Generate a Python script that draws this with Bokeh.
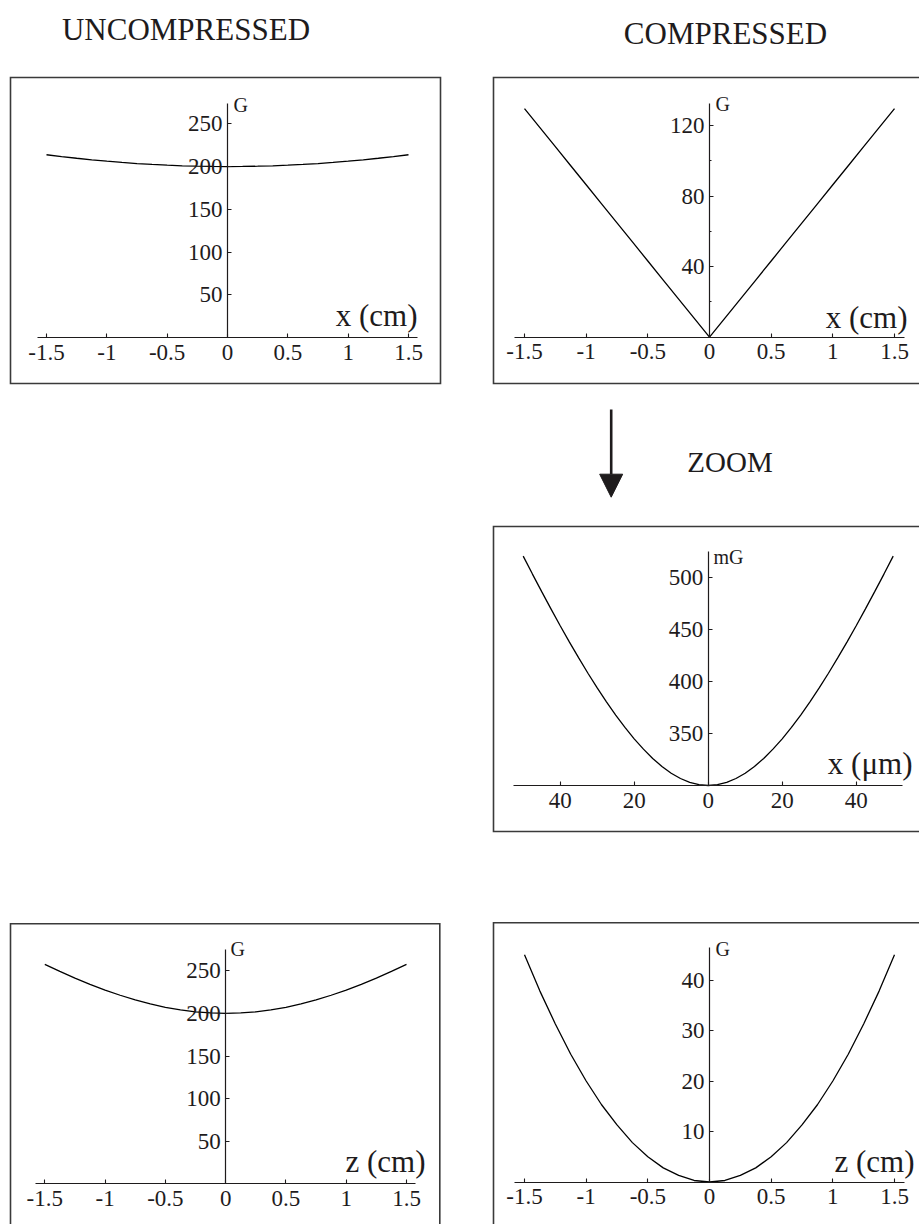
from bokeh.plotting import figure
from bokeh.models import (Range1d, LinearAxis, FixedTicker, Label, Arrow,
                          NormalHead, Spacer, CustomJSTickFormatter)
from bokeh.layouts import column, row
from bokeh.embed import file_html
from bokeh.resources import INLINE

FONT = "Liberation Serif"
INK = "#1e1b1c"
BOX = "#3a3a3a"

# ------------------------------------------------------------------ data
x_cm = [-1.5, -1.375, -1.25, -1.125, -1.0, -0.875, -0.75, -0.625, -0.5,
        -0.375, -0.25, -0.125, 0.0, 0.125, 0.25, 0.375, 0.5, 0.625, 0.75,
        0.875, 1.0, 1.125, 1.25, 1.375, 1.5]

# uncompressed, radial (x)
g_uncomp_x = [213.8, 211.7, 209.7, 207.9, 206.3, 204.8, 203.5, 202.5, 201.6,
              200.9, 200.4, 200.1, 200.0, 200.1, 200.4, 200.9, 201.6, 202.5,
              203.5, 204.8, 206.3, 207.9, 209.7, 211.7, 213.8]
# compressed, radial (x)
g_comp_x = [129.6, 118.8, 108.0, 97.2, 86.4, 75.6, 64.8, 54.0, 43.2, 32.4,
            21.6, 10.8, 0.0, 10.8, 21.6, 32.4, 43.2, 54.0, 64.8, 75.6, 86.4,
            97.2, 108.0, 118.8, 129.6]
# uncompressed, axial (z)
g_uncomp_z = [257.6, 249.3, 241.4, 234.1, 227.4, 221.3, 215.8, 211.1, 207.2,
              204.1, 201.8, 200.5, 200.0, 200.5, 201.8, 204.1, 207.2, 211.1,
              215.8, 221.3, 227.4, 234.1, 241.4, 249.3, 257.6]
# compressed, axial (z)
g_comp_z = [45.0, 37.8, 31.3, 25.3, 20.0, 15.3, 11.3, 7.8, 5.0, 2.8, 1.3, 0.3,
            0.0, 0.3, 1.3, 2.8, 5.0, 7.8, 11.3, 15.3, 20.0, 25.3, 31.3, 37.8,
            45.0]

# compressed, radial zoom (x in micrometres, field in mG)
x_um = [-50, -47.5, -45, -42.5, -40, -37.5, -35, -32.5, -30, -27.5, -25,
        -22.5, -20, -17.5, -15, -12.5, -10, -7.5, -5, -2.5, 0, 2.5, 5, 7.5,
        10, 12.5, 15, 17.5, 20, 22.5, 25, 27.5, 30, 32.5, 35, 37.5, 40, 42.5,
        45, 47.5, 50]
mg_zoom = [520.2, 503.0, 486.1, 469.6, 453.4, 437.7, 422.5, 407.8, 393.7,
           380.3, 367.6, 355.8, 344.8, 334.9, 326.0, 318.3, 311.8, 306.7,
           303.0, 300.75, 300.0, 300.75, 303.0, 306.7, 311.8, 318.3, 326.0,
           334.9, 344.8, 355.8, 367.6, 380.3, 393.7, 407.8, 422.5, 437.7,
           453.4, 469.6, 486.1, 503.0, 520.2]

cm_ticks = [-1.5, -1, -0.5, 0, 0.5, 1, 1.5]
cm_tick_labels = ["-1.5", "-1", "-0.5", "0", "0.5", "1", "1.5"]
um_ticks = [-40, -20, 0, 20, 40]
um_tick_labels = ["40", "20", "0", "20", "40"]

yt_uncomp = [50, 100, 150, 200, 250]
yt_uncomp_labels = ["50", "100", "150", "200", "250"]
yt_comp_x = [40, 80, 120]
yt_comp_x_labels = ["40", "80", "120"]
yt_comp_x_minor = [20, 60, 100]
yt_zoom = [350, 400, 450, 500]
yt_zoom_labels = ["350", "400", "450", "500"]
yt_comp_z = [10, 20, 30, 40]
yt_comp_z_labels = ["10", "20", "30", "40"]

titles = ["UNCOMPRESSED", "COMPRESSED"]
zoom_text = "ZOOM"


# ------------------------------------------------------------------ helpers
def lin(a, b, p):
    (d1, p1), (d2, p2) = a, b
    return d1 + (p - p1) * (d2 - d1) / (p2 - p1)


def fmt(tv, tl):
    return CustomJSTickFormatter(
        args=dict(tv=list(tv), tl=list(tl)),
        code="const i = tv.indexOf(tick); return i >= 0 ? tl[i] : '';")


def base_fig(w, h, xr, yr):
    p = figure(width=w, height=h, x_range=xr, y_range=yr,
               output_backend="svg", toolbar_location=None,
               x_axis_location=None, y_axis_location=None, min_border=0)
    p.title.visible = False
    p.grid.visible = False
    p.outline_line_color = None
    p.background_fill_color = "white"
    p.border_fill_color = "white"
    return p


def panel(canvas, xref, yref):
    cx0, cy0, cx1, cy1 = canvas

    def xs(px):
        return lin(xref[0], xref[1], px)

    def ys(py):
        return lin(yref[0], yref[1], py)

    p = base_fig(cx1 - cx0, cy1 - cy0,
                 Range1d(xs(cx0), xs(cx1)), Range1d(ys(cy1), ys(cy0)))
    return p, xs, ys


def style_axis(ax, standoff):
    ax.axis_line_color = INK
    ax.axis_line_width = 1.2
    ax.major_tick_line_color = INK
    ax.major_tick_line_width = 1.1
    ax.major_tick_in = 4
    ax.major_tick_out = 0
    ax.minor_tick_line_color = INK
    ax.minor_tick_line_width = 1.0
    ax.minor_tick_in = 2
    ax.minor_tick_out = 0
    ax.major_label_text_font = FONT
    ax.major_label_text_font_size = "23px"
    ax.major_label_text_color = INK
    ax.major_label_standoff = standoff


def axes(p, x_at, y_at, xb, yb, xt, xl, yt, yl, yminor=()):
    xa = LinearAxis(fixed_location=x_at, bounds=xb,
                    ticker=FixedTicker(ticks=xt, minor_ticks=[]),
                    formatter=fmt(xt, xl))
    ya = LinearAxis(fixed_location=y_at, bounds=yb,
                    ticker=FixedTicker(ticks=yt, minor_ticks=list(yminor)),
                    formatter=fmt(yt, yl))
    style_axis(xa, 7)
    style_axis(ya, 5)
    p.add_layout(xa, "below")
    p.add_layout(ya, "left")


def text(p, x, y, s, size, align="left"):
    p.add_layout(Label(x=x, y=y, text=s, text_font=FONT,
                       text_font_size=size, text_color=INK,
                       text_align=align, text_baseline="alphabetic"))


def border(p, xs_pts, ys_pts):
    p.line(xs_pts, ys_pts, line_color=BOX, line_width=1.6,
           line_join="miter", line_cap="square")


# ------------------------------------------------------------------ header
header = base_fig(919, 74, Range1d(0, 919), Range1d(74, 0))
text(header, 185.5, 29.3, titles[0], "31px", "center")
text(header, 725.0, 33.3, titles[1], "31px", "center")

# ------------------------------------------------------------------ panel A
pA, xs, ys = panel((0, 74, 444, 386), ((-1.5, 46), (1.5, 408)),
                   ((0, 337.1), (250, 123.3)))
border(pA, [xs(10), xs(440), xs(440), xs(10), xs(10)],
       [ys(77), ys(77), ys(383), ys(383), ys(77)])
axes(pA, 0, 0, (-1.575, 1.575), (0, 274), cm_ticks, cm_tick_labels,
     yt_uncomp, yt_uncomp_labels)
pA.line(x_cm, g_uncomp_x, line_color="black", line_width=1.3)
text(pA, xs(233), ys(104), "G", "20px")
text(pA, xs(417), ys(315), "x (cm)", "31px", "right")

# ------------------------------------------------------------------ panel B
pB, xs, ys = panel((490, 74, 919, 386), ((-1.5, 524), (1.5, 894)),
                   ((0, 336.7), (120, 125)))
border(pB, [xs(940), xs(493), xs(493), xs(940)],
       [ys(77), ys(77), ys(383), ys(383)])
axes(pB, 0, 0, (-1.58, 1.58), (0, 132.4), cm_ticks, cm_tick_labels,
     yt_comp_x, yt_comp_x_labels, yt_comp_x_minor)
pB.line(x_cm, g_comp_x, line_color="black", line_width=1.3)
text(pB, xs(715), ys(103), "G", "20px")
text(pB, xs(907), ys(316.7), "x (cm)", "31px", "right")

# ------------------------------------------------------------------ middle (arrow + ZOOM)
mid = base_fig(919, 136, Range1d(0, 919), Range1d(522, 386))
mid.add_layout(Arrow(x_start=610.7, y_start=409, x_end=610.7, y_end=496.7,
                     line_color=INK, line_width=2.6,
                     end=NormalHead(size=23, fill_color=INK, line_color=INK,
                                    line_width=1)))
text(mid, 729.5, 461, zoom_text, "29px", "center")

# ------------------------------------------------------------------ panel C
pC, xs, ys = panel((490, 522, 919, 834), ((-40, 559.7), (40, 855.7)),
                   ((300, 785), (500, 576.7)))
border(pC, [xs(940), xs(493), xs(493), xs(940)],
       [ys(526), ys(526), ys(831), ys(831)])
axes(pC, 300, 0, (-52.6, 52.6), (300, 525), um_ticks, um_tick_labels,
     yt_zoom, yt_zoom_labels)
pC.line(x_um, mg_zoom, line_color="black", line_width=1.3)
text(pC, xs(713), ys(556), "mG", "20px")
text(pC, xs(912), ys(763), "x (\u03bcm)", "31px", "right")

# ------------------------------------------------------------------ panel D
pD, xs, ys = panel((0, 919, 444, 1224), ((-1.5, 44.3), (1.5, 406)),
                   ((0, 1183.3), (250, 970.3)))
border(pD, [xs(10), xs(10), xs(439.3), xs(439.3)],
       [ys(1250), ys(923.3), ys(923.3), ys(1250)])
axes(pD, 0, 0, (-1.578, 1.578), (0, 275.5), cm_ticks, cm_tick_labels,
     yt_uncomp, yt_uncomp_labels)
pD.line(x_cm, g_uncomp_z, line_color="black", line_width=1.3)
text(pD, xs(230), ys(948.3), "G", "20px")
text(pD, xs(425), ys(1161), "z (cm)", "31px", "right")

# ------------------------------------------------------------------ panel E
pE, xs, ys = panel((490, 919, 919, 1224), ((-1.5, 524), (1.5, 894)),
                   ((0, 1181.5), (40, 979.5)))
border(pE, [xs(940), xs(493), xs(493)],
       [ys(922.3), ys(922.3), ys(1250)])
axes(pE, 0, 0, (-1.58, 1.58), (0, 46.4), cm_ticks, cm_tick_labels,
     yt_comp_z, yt_comp_z_labels)
pE.line(x_cm, g_comp_z, line_color="black", line_width=1.3)
text(pE, xs(715), ys(948), "G", "20px")
text(pE, xs(914), ys(1160.5), "z (cm)", "31px", "right")

# ------------------------------------------------------------------ layout
layout = column(
    header,
    row(pA, Spacer(width=46, height=312), pB),
    mid,
    row(Spacer(width=490, height=312), pC),
    Spacer(width=919, height=85),
    row(pD, Spacer(width=46, height=305), pE),
)

open("out.html", "w").write(file_html(layout, INLINE, "Magnetic trap field"))
